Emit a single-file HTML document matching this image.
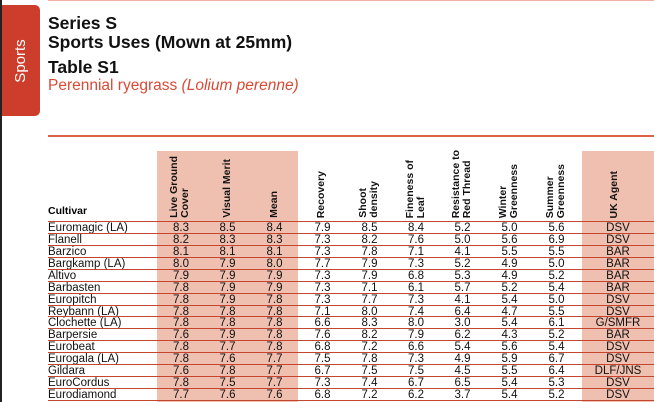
<!DOCTYPE html>
<html><head><style>
body{margin:0;width:654px;height:402px;overflow:hidden;background:#fff;font-family:"Liberation Sans",Arial,sans-serif;position:relative}
.a{position:absolute}
.h{position:absolute;bottom:184px;font-weight:bold;font-size:10.5px;line-height:11px;writing-mode:vertical-rl;transform:rotate(180deg);white-space:nowrap;color:#111}
.row{position:absolute;left:48px;width:606px;height:11.93px;border-top:1px solid #c6452f;font-size:11.5px;line-height:12px;color:#111}
.row span{position:absolute;top:0;text-align:center}
</style></head><body>
<div class="a" style="left:0;top:0;width:2px;height:402px;background:#222"></div>
<div class="a" style="left:48px;top:0;width:606px;height:1px;background:#f0b0a8"></div>
<div class="a" style="left:2px;top:5px;width:38px;height:111px;background:#cc3e2b;border-radius:0 5px 5px 0"></div>
<div class="a" style="left:-9px;top:52px;width:60px;color:#fff;font-size:15px;transform:rotate(-90deg);text-align:center;height:18px;line-height:18px">Sports</div>
<div class="a" style="left:48px;top:14px;font-weight:bold;font-size:17.5px;line-height:19px;color:#111">Series S<br>Sports Uses (Mown at 25mm)</div>
<div class="a" style="left:48px;top:57px;font-weight:bold;font-size:17.5px;color:#111">Table S1</div>
<div class="a" style="left:48px;top:77px;font-size:15.5px;color:#d94a35">Perennial ryegrass <i>(Lolium perenne)</i></div>
<div class="a" style="left:48px;top:135px;width:606px;height:2px;background:#e0604e"></div>
<div class="a" style="left:157px;top:151px;width:141px;height:251px;background:#efc0b0"></div>
<div class="a" style="left:582px;top:151px;width:72px;height:251px;background:#efc0b0"></div>
<div class="a" style="left:48px;top:205px;font-weight:bold;font-size:10.5px">Cultivar</div>
<div class="h" style="left:169px">Live Ground<br>Cover</div>
<div class="h" style="left:222px">Visual Merit</div>
<div class="h" style="left:269px">Mean</div>
<div class="h" style="left:316px">Recovery</div>
<div class="h" style="left:358px">Shoot<br>density</div>
<div class="h" style="left:405px">Fineness of<br>Leaf</div>
<div class="h" style="left:451px">Resistance to<br>Red Thread</div>
<div class="h" style="left:498px">Winter<br>Greenness</div>
<div class="h" style="left:545px">Summer<br>Greenness</div>
<div class="h" style="left:609px">UK Agent</div>
<div id="t"></div>
<script>
var d=[["Euromagic (LA)","8.3","8.5","8.4","7.9","8.5","8.4","5.2","5.0","5.6","DSV"],
["Flanell","8.2","8.3","8.3","7.3","8.2","7.6","5.0","5.6","6.9","DSV"],
["Barzico","8.1","8.1","8.1","7.3","7.8","7.1","4.1","5.5","5.5","BAR"],
["Bargkamp (LA)","8.0","7.9","8.0","7.7","7.9","7.3","5.2","4.9","5.0","BAR"],
["Altivo","7.9","7.9","7.9","7.3","7.9","6.8","5.3","4.9","5.2","BAR"],
["Barbasten","7.8","7.9","7.9","7.3","7.1","6.1","5.7","5.2","5.4","BAR"],
["Europitch","7.8","7.9","7.8","7.3","7.7","7.3","4.1","5.4","5.0","DSV"],
["Reybann (LA)","7.8","7.8","7.8","7.1","8.0","7.4","6.4","4.7","5.5","DSV"],
["Clochette (LA)","7.8","7.8","7.8","6.6","8.3","8.0","3.0","5.4","6.1","G/SMFR"],
["Barpersie","7.6","7.9","7.8","7.6","8.2","7.9","6.2","4.3","5.2","BAR"],
["Eurobeat","7.8","7.7","7.8","6.8","7.2","6.6","5.4","5.6","5.4","DSV"],
["Eurogala (LA)","7.8","7.6","7.7","7.5","7.8","7.3","4.9","5.9","6.7","DSV"],
["Gildara","7.6","7.8","7.7","6.7","7.5","7.5","4.5","5.5","6.4","DLF/JNS"],
["EuroCordus","7.8","7.5","7.7","7.3","7.4","6.7","6.5","5.4","5.3","DSV"],
["Eurodiamond","7.7","7.6","7.6","6.8","7.2","6.2","3.7","5.4","5.2","DSV"]];
var c=[[157,48],[204,47],[251,47],[299,47],[346,47],[393,46],[439,47],[486,47],[533,47],[582,72]];
var h="";
d.forEach(function(r,i){h+='<div class="row" style="top:'+(221+i*11.93)+'px"><span style="left:0;text-align:left">'+r[0]+'</span>';
for(var j=1;j<r.length;j++){h+='<span style="left:'+(c[j-1][0]-48)+'px;width:'+c[j-1][1]+'px">'+r[j]+'</span>';}h+='</div>';});
h+='<div class="a" style="left:48px;top:400px;width:606px;height:1px;background:#c6452f"></div>';
document.getElementById("t").innerHTML=h;
</script>
</body></html>
